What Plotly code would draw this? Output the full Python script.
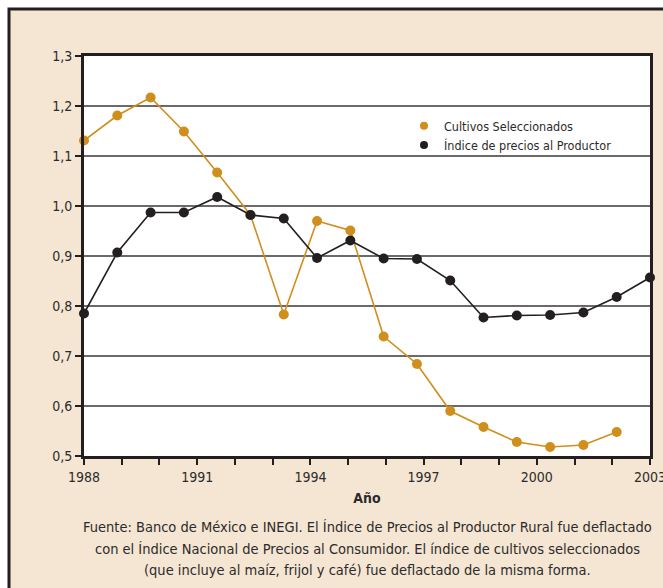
import plotly.graph_objects as go

# ---- data ----
obs_index = list(range(18))
cultivos = [1.131, 1.181, 1.217, 1.149, 1.067, 0.982, 0.783, 0.970, 0.951,
            0.739, 0.684, 0.590, 0.558, 0.528, 0.518, 0.522, 0.548]
productor = [0.785, 0.907, 0.987, 0.987, 1.018, 0.982, 0.975, 0.896, 0.931,
             0.895, 0.894, 0.851, 0.777, 0.781, 0.782, 0.787, 0.818, 0.857]
years = list(range(1988, 2004))
label_years = [1988, 1991, 1994, 1997, 2000, 2003]
series_names = ["Cultivos Seleccionados", "Índice de precios al Productor"]
caption_lines = [
    "Fuente: Banco de México e INEGI. El Índice de Precios al Productor Rural fue deflactado",
    "con el Índice Nacional de Precios al Consumidor. El índice de cultivos seleccionados",
    "(que incluye al maíz, frijol y café) fue deflactado de la misma forma.",
]

ORANGE = "#D08E1C"
BLACK = "#231F20"
TEXT = "#2b2b2b"
FONT = "Liberation Sans Narrow, DejaVu Sans Condensed, Liberation Sans, sans-serif"

W, H = 663, 588
ML, MR, MT, MB = 84, 13, 56, 132
PW, PH = W - ML - MR, H - MT - MB

def px_x(px):
    return (px - ML) / PW

def px_y(py):
    return (H - MB - py) / PH

# observation index -> year position on the axis (18 obs span 1988-2003)
n_span = len(obs_index) - 1
yr_span = years[-1] - years[0]
tickvals = [(y - years[0]) * n_span / yr_span for y in years]
ticktext = [str(y) if y in label_years else "" for y in years]

fig = go.Figure()
fig.add_trace(go.Scatter(
    x=obs_index[:len(cultivos)], y=cultivos, mode="lines+markers",
    line=dict(color=ORANGE, width=1.6), marker=dict(color=ORANGE, size=10),
    showlegend=False, cliponaxis=False))
fig.add_trace(go.Scatter(
    x=obs_index, y=productor, mode="lines+markers",
    line=dict(color=BLACK, width=1.6), marker=dict(color=BLACK, size=10),
    showlegend=False, cliponaxis=False))
# legend-only entries (dot symbol only)
for name, col in zip(series_names, [ORANGE, BLACK]):
    fig.add_trace(go.Scatter(x=[None], y=[None], mode="markers", name=name,
                             marker=dict(color=col, size=8), showlegend=True))

fig.update_layout(
    width=W, height=H,
    margin=dict(l=ML, r=MR, t=MT, b=MB, pad=0, autoexpand=False),
    paper_bgcolor="white", plot_bgcolor="white",
    separators=",.",
    font=dict(family=FONT, size=14, color=TEXT),
    legend=dict(x=px_x(404), y=px_y(111), xanchor="left", yanchor="top",
                bgcolor="rgba(0,0,0,0)", font=dict(size=12.5, color=TEXT),
                tracegroupgap=0, itemwidth=30),
    shapes=[
        dict(type="rect", xref="paper", yref="paper", layer="below",
             x0=px_x(9), x1=px_x(720), y0=px_y(650), y1=px_y(9),
             fillcolor="#F5E6D3", line=dict(color=BLACK, width=3)),
        dict(type="rect", xref="paper", yref="paper", layer="below",
             x0=0, x1=1, y0=0, y1=1, fillcolor="white", line=dict(width=0)),
    ],
)

fig.update_xaxes(
    range=[0, n_span], tickmode="array", tickvals=tickvals, ticktext=ticktext,
    ticks="outside", ticklen=6, tickwidth=1.5, tickcolor=BLACK,
    showgrid=False, zeroline=False, ticklabeloverflow="allow", automargin=False,
    showline=True, mirror=True, linecolor=BLACK, linewidth=3,
    tickfont=dict(size=14),
    title=dict(text="<b>Año</b>", font=dict(size=14, color=TEXT), standoff=10),
)
fig.update_yaxes(
    range=[0.5, 1.3], dtick=0.1, tick0=0.5, tickformat=".1f",
    ticks="outside", ticklen=6, tickwidth=1.5, tickcolor=BLACK,
    showgrid=True, gridcolor="#6a6a6a", gridwidth=1.5, zeroline=False,
    showline=True, mirror=True, linecolor=BLACK, linewidth=3, automargin=False,
    tickfont=dict(size=14),
)

for i, line in enumerate(caption_lines):
    fig.add_annotation(text=line, xref="paper", yref="paper",
                       x=0.5, y=px_y(527 + i * 21.5), xanchor="center", yanchor="middle",
                       showarrow=False, font=dict(size=14.5, color=TEXT))

fig.write_html("out.html", config={"displayModeBar": False},
               post_script="document.body.style.margin='0';document.body.style.overflow='hidden';")
